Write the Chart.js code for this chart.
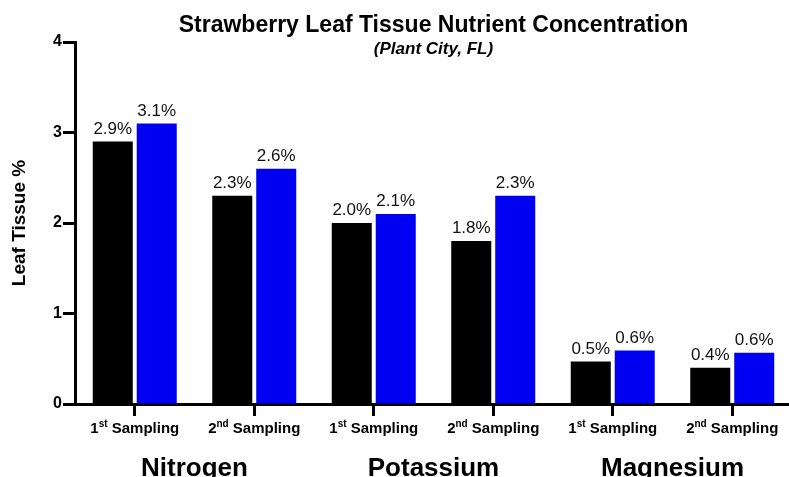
<!DOCTYPE html>
<html>
<head>
<meta charset="utf-8">
<script src="https://cdn.jsdelivr.net/npm/chart.js@4"></script>
<style>
  html, body { margin: 0; padding: 0; overflow: hidden; background: #fff; }
  #wrap { width: 792px; height: 477px; }
</style>
</head>
<body>
<div id="wrap"><canvas id="myChart" width="792" height="477"></canvas></div>
<script>
const categories = ["1st Sampling", "2nd Sampling", "1st Sampling", "2nd Sampling", "1st Sampling", "2nd Sampling"];
const nutrients = ["Nitrogen", "Potassium", "Magnesium"];
const blackValues = [2.9, 2.3, 2.0, 1.8, 0.47, 0.40];
const blueValues = [3.1, 2.6, 2.1, 2.3, 0.59, 0.565];
const blackLabels = ["2.9%", "2.3%", "2.0%", "1.8%", "0.5%", "0.4%"];
const blueLabels = ["3.1%", "2.6%", "2.1%", "2.3%", "0.6%", "0.6%"];
const yTicks = [0, 1, 2, 3, 4];

const FONT = "'Liberation Sans', Arial, Helvetica, sans-serif";
const ctx = document.getElementById("myChart");

const overlay = {
  id: "overlay",
  afterDatasetsDraw(chart) {
    const c = chart.ctx;
    const labelSets = [blackLabels, blueLabels];
    c.save();
    c.font = "17px " + FONT;
    c.fillStyle = "#111";
    c.textAlign = "center";
    c.textBaseline = "bottom";
    chart.data.datasets.forEach((ds, i) => {
      chart.getDatasetMeta(i).data.forEach((bar, j) => {
        c.fillText(labelSets[i][j], bar.x, bar.y - 4);
      });
    });
    c.restore();
  },
  afterDraw(chart) {
    const c = chart.ctx;
    const area = chart.chartArea;
    const x = chart.scales.x;
    const mid = (area.left + area.right) / 2;
    c.save();
    c.fillStyle = "#000";
    c.textAlign = "center";
    c.textBaseline = "alphabetic";
    c.font = "bold 23px " + FONT;
    c.fillText("Strawberry Leaf Tissue Nutrient Concentration", mid, 32);
    c.font = "italic bold 17px " + FONT;
    c.fillText("(Plant City, FL)", mid, 54);

    // category labels with superscript ordinals
    c.textAlign = "left";
    categories.forEach((label, i) => {
      const m = label.match(/^(\d+)(st|nd|rd|th)(.*)$/);
      const cx = x.getPixelForValue(i);
      c.font = "bold 15px " + FONT;
      const w1 = c.measureText(m[1]).width;
      const w3 = c.measureText(m[3]).width;
      c.font = "bold 10px " + FONT;
      const w2 = c.measureText(m[2]).width;
      let px = cx - (w1 + w2 + w3) / 2;
      c.font = "bold 15px " + FONT;
      c.fillText(m[1], px, 433);
      c.font = "bold 10px " + FONT;
      c.fillText(m[2], px + w1, 427);
      c.font = "bold 15px " + FONT;
      c.fillText(m[3], px + w1 + w2, 433);
    });

    c.textAlign = "center";
    c.font = "bold 26px " + FONT;
    nutrients.forEach((name, k) => {
      const gx = (x.getPixelForValue(k * 2) + x.getPixelForValue(k * 2 + 1)) / 2;
      c.fillText(name, gx, 476);
    });
    c.restore();
  }
};

new Chart(ctx, {
  type: "bar",
  data: {
    labels: categories,
    datasets: [
      {
        label: "Black",
        data: blackValues,
        backgroundColor: "#000000",
        categoryPercentage: 0.736,
        barPercentage: 0.91
      },
      {
        label: "Blue",
        data: blueValues,
        backgroundColor: "#0000f2",
        categoryPercentage: 0.736,
        barPercentage: 0.91
      }
    ]
  },
  options: {
    responsive: false,
    animation: false,
    devicePixelRatio: 1,
    layout: { padding: { top: 42, right: 0, bottom: 0, left: 0 } },
    plugins: {
      legend: { display: false },
      tooltip: { enabled: false }
    },
    scales: {
      x: {
        grid: {
          display: true,
          offset: false,
          drawOnChartArea: false,
          drawTicks: true,
          tickLength: 12,
          tickWidth: 3,
          color: "#000"
        },
        border: { color: "#000", width: 3 },
        ticks: { display: false },
        afterFit(scale) { scale.height = 73; }
      },
      y: {
        min: 0,
        max: 4,
        afterBuildTicks(scale) { scale.ticks = yTicks.map(v => ({ value: v })); },
        grid: {
          drawOnChartArea: false,
          drawTicks: true,
          tickLength: 12,
          tickWidth: 3,
          color: "#000"
        },
        border: { color: "#000", width: 3 },
        ticks: {
          color: "#000",
          padding: 1,
          font: { family: FONT, size: 16, weight: "bold" }
        },
        title: {
          display: true,
          text: "Leaf Tissue %",
          color: "#000",
          font: { family: FONT, size: 19, weight: "bold" },
          padding: { top: 8, bottom: 0 }
        },
        afterFit(scale) { scale.width = 75; }
      }
    }
  },
  plugins: [overlay]
});
</script>
</body>
</html>
